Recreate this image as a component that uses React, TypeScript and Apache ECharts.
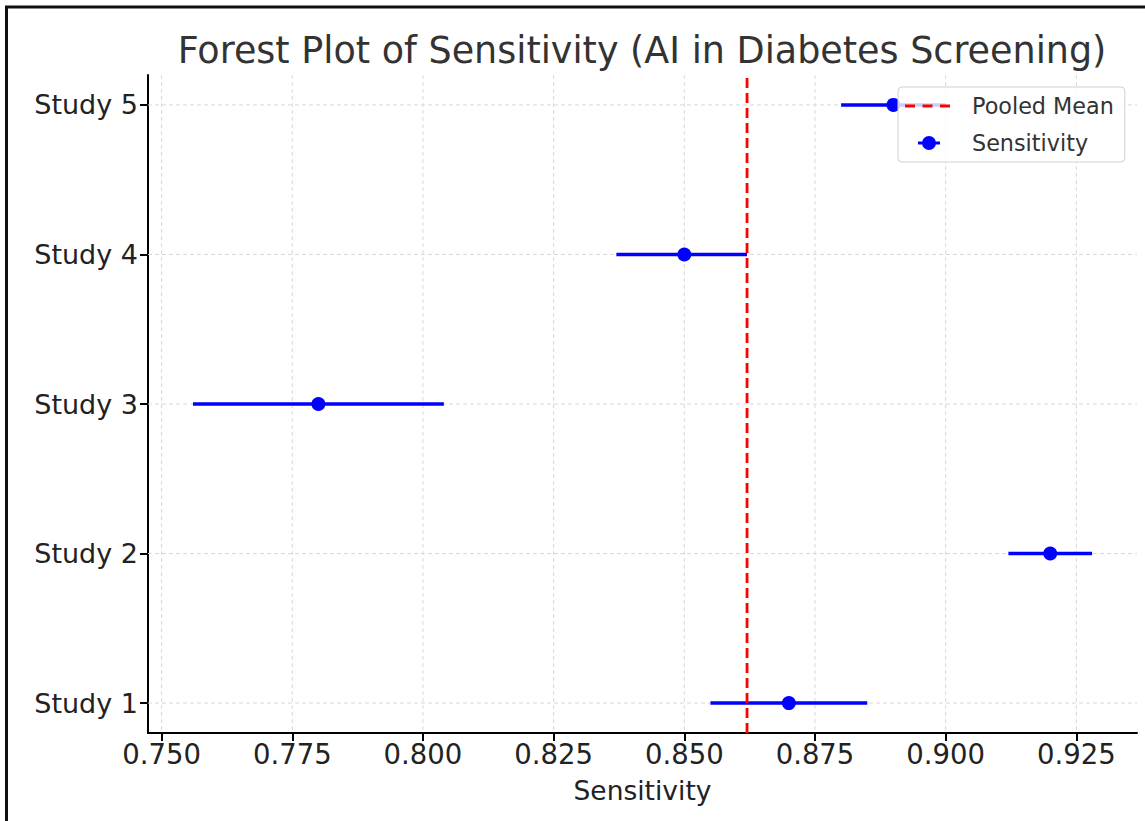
import React, { useEffect, useRef } from "react";
import * as echarts from "echarts";

const studies = ["Study 1", "Study 2", "Study 3", "Study 4", "Study 5"];
const sensitivity = [0.87, 0.92, 0.78, 0.85, 0.89];
const ciLower = [0.855, 0.912, 0.756, 0.837, 0.88];
const ciUpper = [0.885, 0.928, 0.804, 0.862, 0.9];
const pooledMean = 0.862;
const xTicks = [0.75, 0.775, 0.8, 0.825, 0.85, 0.875, 0.9, 0.925];
const yTicks = [0, 1, 2, 3, 4];

const FONT = "DejaVu Sans";
const TEXT = "#222222";

export default function App() {
  const ref = useRef<HTMLDivElement>(null);

  useEffect(() => {
    if (!ref.current) return;
    const chart = echarts.init(ref.current, null, { renderer: "svg" });

    const anchors = "M0,0h0.01v0.01h-0.01z M45,22h-0.01v-0.01h0.01z ";
    const sensIcon =
      "path://" +
      anchors +
      "M13,9.5h22v3h-22z M17,11a7,7 0 1,1 14,0a7,7 0 1,1 -14,0z";
    const meanIcon =
      "path://" +
      anchors +
      "M0,9.6h10v2.8h-10z M17.5,9.6h10v2.8h-10z M35,9.6h10v2.8h-10z";

    const gridData = [
      ...xTicks.map((v) => [0, v]),
      ...yTicks.map((v) => [1, v]),
    ];

    chart.setOption({
      animation: false,
      backgroundColor: "#ffffff",
      textStyle: { fontFamily: FONT },
      graphic: [
        {
          type: "text",
          x: 642,
          y: 50,
          style: {
            text: "Forest Plot of Sensitivity (AI in Diabetes Screening)",
            fontFamily: FONT,
            fontSize: 36.5,
            fill: "#333333",
            textAlign: "center",
            textVerticalAlign: "middle",
          },
        },
        {
          type: "line",
          shape: { x1: 5, y1: 7, x2: 1145, y2: 7 },
          style: { stroke: "#111111", lineWidth: 3 },
        },
        {
          type: "line",
          shape: { x1: 6.5, y1: 6, x2: 6.5, y2: 821 },
          style: { stroke: "#111111", lineWidth: 3 },
        },
      ],
      grid: { left: 148, right: 8, top: 75, bottom: 88, containLabel: false },
      xAxis: {
        type: "value",
        min: 0.7474,
        max: 0.9366,
        name: "Sensitivity",
        nameLocation: "middle",
        nameGap: 44,
        nameTextStyle: { fontSize: 26.5, color: TEXT, fontFamily: FONT },
        axisLine: { show: true, onZero: false, lineStyle: { color: "#000000", width: 2 } },
        axisTick: {
          show: true,
          inside: false,
          length: 8,
          customValues: xTicks,
          lineStyle: { color: "#000000", width: 2 },
        },
        axisLabel: {
          customValues: xTicks,
          fontSize: 27.5,
          color: TEXT,
          fontFamily: FONT,
          margin: 7,
          formatter: (v: number) => v.toFixed(3),
        },
        splitLine: { show: false },
      },
      yAxis: {
        type: "value",
        min: -0.2,
        max: 4.2,
        axisLine: { show: true, onZero: false, lineStyle: { color: "#000000", width: 2 } },
        axisTick: {
          show: true,
          inside: false,
          length: 8,
          customValues: yTicks,
          lineStyle: { color: "#000000", width: 2 },
        },
        axisLabel: {
          customValues: yTicks,
          fontSize: 27,
          color: TEXT,
          fontFamily: FONT,
          margin: 10,
          formatter: (v: number) => studies[Math.round(v)] ?? "",
        },
        splitLine: { show: false },
      },
      legend: {
        orient: "vertical",
        left: 898,
        top: 87,
        z: 20,
        padding: [8, 11, 8, 7],
        itemWidth: 45,
        itemHeight: 22,
        itemGap: 15,
        backgroundColor: "rgba(255,255,255,0.8)",
        borderColor: "#d0d0d0",
        borderWidth: 1,
        borderRadius: 4,
        textStyle: { fontSize: 22.3, color: "#333333", fontFamily: FONT, padding: [0, 0, 0, 17] },
        data: [
          { name: "Pooled Mean", icon: meanIcon },
          { name: "Sensitivity", icon: sensIcon },
        ],
      },
      series: [
        {
          name: "__grid",
          type: "custom",
          z: 1,
          silent: true,
          data: gridData,
          encode: { x: -1, y: -1 },
          renderItem: (params: any, api: any) => {
            const cs = params.coordSys;
            const kind = api.value(0);
            const v = api.value(1);
            if (kind === 0) {
              const px = api.coord([v, 0])[0];
              return {
                type: "line",
                shape: { x1: px, y1: cs.y, x2: px, y2: cs.y + cs.height },
                style: { stroke: "#d9d9d9", lineWidth: 1, lineDash: [4, 3], fill: null },
              };
            }
            const py = api.coord([0.8, v])[1];
            return {
              type: "line",
              shape: { x1: cs.x, y1: py, x2: cs.x + cs.width, y2: py },
              style: { stroke: "#d9d9d9", lineWidth: 1, lineDash: [4, 3], fill: null },
            };
          },
        },
        {
          name: "CI",
          type: "custom",
          z: 3,
          data: ciLower.map((lo, i) => [lo, ciUpper[i], i]),
          encode: { x: [0, 1], y: 2 },
          renderItem: (params: any, api: any) => {
            const p1 = api.coord([api.value(0), api.value(2)]);
            const p2 = api.coord([api.value(1), api.value(2)]);
            return {
              type: "rect",
              shape: { x: p1[0], y: p1[1] - 1.75, width: p2[0] - p1[0], height: 3.5 },
              style: { fill: "#0000ff", stroke: null },
            };
          },
        },
        {
          name: "Sensitivity",
          type: "scatter",
          z: 4,
          symbol: "circle",
          symbolSize: 14,
          itemStyle: { color: "#0000ff", opacity: 1 },
          data: sensitivity.map((v, i) => [v, i]),
        },
        {
          name: "Pooled Mean",
          type: "line",
          z: 5,
          symbol: "none",
          showSymbol: false,
          itemStyle: { color: "#ff0000" },
          lineStyle: { color: "#ff0000", width: 2.8, type: [10, 5] },
          data: [
            [pooledMean, -0.2],
            [pooledMean, 4.2],
          ],
        },
      ],
    });

    return () => chart.dispose();
  }, []);

  return (
    <div
      ref={ref}
      style={{ position: "fixed", left: 0, top: 0, width: 1145, height: 821 }}
    />
  );
}
